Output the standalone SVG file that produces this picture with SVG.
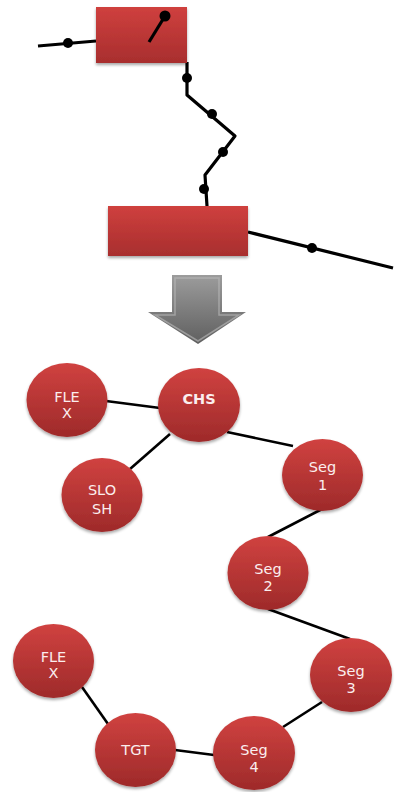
<svg xmlns="http://www.w3.org/2000/svg" width="403" height="792" viewBox="0 0 403 792">
  <defs>
    <linearGradient id="red" x1="0" y1="0" x2="0" y2="1">
      <stop offset="0" stop-color="#d04240"/>
      <stop offset="1" stop-color="#9e2a2a"/>
    </linearGradient>
    <linearGradient id="redBox" x1="0" y1="0" x2="0" y2="1">
      <stop offset="0" stop-color="#cf403e"/>
      <stop offset="1" stop-color="#a82e2e"/>
    </linearGradient>
    <linearGradient id="grey" x1="0" y1="0" x2="0" y2="1">
      <stop offset="0" stop-color="#9c9c9c"/>
      <stop offset="1" stop-color="#5f5f5f"/>
    </linearGradient>
    <filter id="shadow" x="-20%" y="-20%" width="140%" height="140%">
      <feGaussianBlur in="SourceAlpha" stdDeviation="1.5"/>
      <feOffset dx="0" dy="1.5" result="b"/>
      <feComponentTransfer><feFuncA type="linear" slope="0.35"/></feComponentTransfer>
      <feMerge><feMergeNode/><feMergeNode in="SourceGraphic"/></feMerge>
    </filter>
  </defs>
  <style>
    .wire { stroke: #000; stroke-width: 3.2; fill: none; stroke-linejoin: round; }
    .link { stroke: #000; stroke-width: 2.6; fill: none; }
    .dot { fill: #000; }
    .box { fill: url(#redBox); filter: url(#shadow); }
    .node ellipse { fill: url(#red); filter: url(#shadow); }
    .node text { fill: #fbeeee; font-family: "DejaVu Sans", Verdana, sans-serif; font-size: 14.5px; text-anchor: middle; }
  </style>

  <!-- upper sketch: two boxes and the wire between them -->
  <g id="wires">
    <polyline class="wire" points="38,46 96,41"/>
    <polyline class="wire" points="187,62 187,95 235,136 205,175 207,206"/>
    <polyline class="wire" points="248,232 393,268"/>
    <circle class="dot" cx="68" cy="43" r="5"/>
    <circle class="dot" cx="187" cy="78" r="5"/>
    <circle class="dot" cx="212" cy="114" r="5"/>
    <circle class="dot" cx="223" cy="152" r="5"/>
    <circle class="dot" cx="204" cy="189" r="5"/>
    <circle class="dot" cx="312" cy="248" r="5"/>
  </g>
  <g id="box-top">
    <rect class="box" x="96" y="7" width="91" height="56"/>
    <line class="wire" x1="149" y1="42" x2="165" y2="16"/>
    <circle class="dot" cx="165" cy="16" r="5.5"/>
  </g>
  <g id="box-bottom">
    <rect class="box" x="108" y="206" width="140" height="50"/>
  </g>

  <!-- down arrow -->
  <g id="arrow">
    <polygon points="172,275 222,275 222,312 246,312 198,344 148,312 172,312" fill="url(#grey)"/>
    <polygon points="175,278 219,278 219,315 239,315 198,341 155,315 175,315" fill="none" stroke="#bdbdbd" stroke-width="1.5" opacity="0.6"/>
  </g>

  <!-- graph links -->
  <g id="connectors">
    <line class="link" x1="106" y1="401" x2="160" y2="408"/>
    <line class="link" x1="170" y1="434" x2="130" y2="469"/>
    <line class="link" x1="227" y1="432" x2="293" y2="446"/>
    <line class="link" x1="322" y1="509" x2="268" y2="537"/>
    <line class="link" x1="268" y1="609" x2="350" y2="639"/>
    <line class="link" x1="322" y1="702" x2="283" y2="727"/>
    <line class="link" x1="175" y1="750" x2="214" y2="755"/>
    <line class="link" x1="82" y1="687" x2="108" y2="724"/>
  </g>

  <g id="flex-top" class="node">
    <ellipse cx="67" cy="400" rx="40.5" ry="37"/>
    <text x="67" y="402">FLE</text>
    <text x="67" y="418">X</text>
  </g>
  <g id="chs" class="node">
    <ellipse cx="199" cy="405" rx="41" ry="37"/>
    <text x="199" y="404" style="font-weight:bold">CHS</text>
  </g>
  <g id="slosh" class="node">
    <ellipse cx="102" cy="495" rx="40.5" ry="37"/>
    <text x="102" y="495">SLO</text>
    <text x="102" y="514">SH</text>
  </g>
  <g id="seg1" class="node">
    <ellipse cx="322.5" cy="475" rx="40.5" ry="36"/>
    <text x="322.5" y="472">Seg</text>
    <text x="322.5" y="490">1</text>
  </g>
  <g id="seg2" class="node">
    <ellipse cx="268" cy="573" rx="40.5" ry="37"/>
    <text x="268" y="574">Seg</text>
    <text x="268" y="591">2</text>
  </g>
  <g id="seg3" class="node">
    <ellipse cx="351" cy="675" rx="41" ry="37"/>
    <text x="351" y="676">Seg</text>
    <text x="351" y="693">3</text>
  </g>
  <g id="flex-bottom" class="node">
    <ellipse cx="53.5" cy="661" rx="40.5" ry="37"/>
    <text x="53.5" y="662">FLE</text>
    <text x="53.5" y="678">X</text>
  </g>
  <g id="tgt" class="node">
    <ellipse cx="135.5" cy="750" rx="40.5" ry="37"/>
    <text x="135.5" y="755">TGT</text>
  </g>
  <g id="seg4" class="node">
    <ellipse cx="254" cy="753" rx="41" ry="37"/>
    <text x="254" y="755">Seg</text>
    <text x="254" y="772">4</text>
  </g>
</svg>
